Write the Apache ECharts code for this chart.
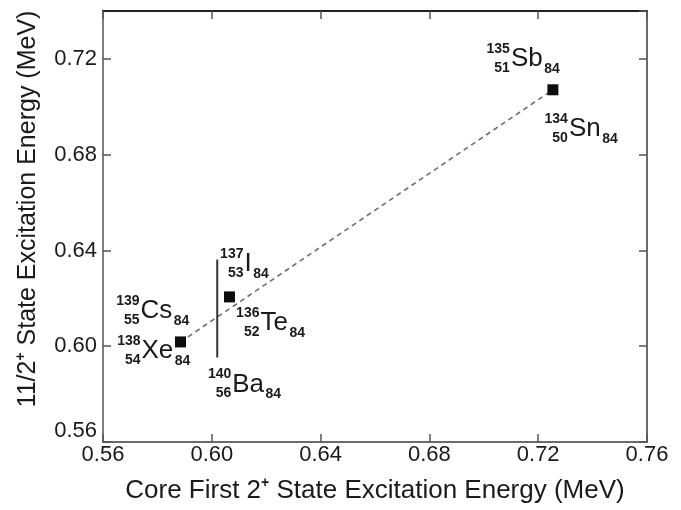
<!DOCTYPE html>
<html><head><meta charset="utf-8">
<script src="https://cdn.jsdelivr.net/npm/echarts@6/dist/echarts.min.js"></script>
<style>html,body{margin:0;padding:0;background:#fff}#c{width:681px;height:510px}</style>
</head><body><div id="c"></div>
<script>
// ---- data ----
const pointNames = ['138Xe / 139Cs', '136Te / 137I', '134Sn / 135Sb'];
const coreEnergy = [0.5885, 0.6065, 0.7254];
const stateEnergy = [0.6018, 0.6206, 0.7071];
const fitLineX = [0.5885, 0.7254];
const fitLineY = [0.6018, 0.7071];
const baCoreEnergy = [0.602, 0.602];
const baStateRange = [0.5953, 0.6362];
const xTicks = [0.56, 0.60, 0.64, 0.68, 0.72, 0.76];
const yTicks = [0.56, 0.60, 0.64, 0.68, 0.72];
const labelMass = ['139', '138', '137', '136', '140', '135', '134'];
const labelZ = ['55', '54', '53', '52', '56', '51', '50'];
const labelSym = ['Cs', 'Xe', 'I', 'Te', 'Ba', 'Sb', 'Sn'];
const labelN = ['84', '84', '84', '84', '84', '84', '84'];
const labelAnchor = ['p0', 'p0', 'p1', 'p1', 'ba', 'p2', 'p2'];

// ---- layout / style ----
const FONT = '"Liberation Sans", Arial, Helvetica, sans-serif';
const SYM_FS = 26, SCR_FS = 14;
const labelOffset = [[-40, -22], [-39, 18], [15, -24], [31, 35], [15, 36], [-42, -22], [16, 48]];
const TXT = '#1a1a1a';

const chart = echarts.init(document.getElementById('c'), null, {renderer: 'canvas'});
const xMin = xTicks[0], xMax = xTicks[xTicks.length - 1];
const yMin = yTicks[0], yMax = 0.74, step = 0.04;

const axisLineStyle = {color: '#3a3a3a', width: 1.5};
const tickStyle = {show: true, inside: true, length: 8, lineStyle: {color: '#555', width: 1.5}};

const option = {
  animation: false,
  backgroundColor: '#fff',
  grid: {left: 103, right: 34, top: 11, bottom: 68, containLabel: false},
  xAxis: [{
    type: 'value', min: xMin, max: xMax, interval: step, position: 'bottom',
    axisLine: {show: true, lineStyle: axisLineStyle}, axisTick: tickStyle, splitLine: {show: false},
    axisLabel: {color: TXT, fontSize: 22, fontFamily: FONT, margin: 2, formatter: v => v.toFixed(2)},
    name: 'Core First 2{s|+} State Excitation Energy (MeV)', nameLocation: 'middle', nameGap: 34,
    nameTextStyle: {color: TXT, fontSize: 26, fontFamily: FONT, lineHeight: 29,
      rich: {s: {fontSize: 14, fontWeight: 'bold', fontFamily: FONT, color: TXT, verticalAlign: 'top', lineHeight: 14}}}
  }, {
    type: 'value', min: xMin, max: xMax, interval: step, position: 'top',
    axisLine: {show: true, lineStyle: {color: '#222', width: 2}}, axisTick: tickStyle, splitLine: {show: false},
    axisLabel: {show: false}
  }],
  yAxis: [{
    type: 'value', min: yMin, max: yMax, interval: step, position: 'left',
    axisLine: {show: true, lineStyle: {color: '#555', width: 1.5}}, axisTick: tickStyle, splitLine: {show: false},
    axisLabel: {color: TXT, fontSize: 22, fontFamily: FONT, margin: 6, showMaxLabel: false,
      verticalAlignMinLabel: 'bottom', formatter: v => v.toFixed(2)},
    name: '11/2{s|+} State Excitation Energy (MeV)', nameLocation: 'middle', nameGap: 61, nameRotate: 90,
    nameTextStyle: {color: TXT, fontSize: 25, fontFamily: FONT, lineHeight: 28, padding: [0, 0, 0, 35],
      rich: {s: {fontSize: 14, fontWeight: 'bold', fontFamily: FONT, color: TXT, verticalAlign: 'top', lineHeight: 14}}}
  }, {
    type: 'value', min: yMin, max: yMax, interval: step, position: 'right',
    axisLine: {show: true, lineStyle: axisLineStyle}, axisTick: tickStyle, splitLine: {show: false},
    axisLabel: {show: false}
  }],
  series: [
    {
      type: 'line', name: 'fit', xAxisIndex: 0, yAxisIndex: 0, z: 2,
      data: fitLineX.map((x, i) => [x, fitLineY[i]]),
      showSymbol: false, symbol: 'none',
      lineStyle: {color: '#6e6e6e', width: 1.6, type: [5, 4]}
    },
    {
      type: 'line', name: 'Ba', xAxisIndex: 0, yAxisIndex: 0, z: 2,
      data: baCoreEnergy.map((x, i) => [x, baStateRange[i]]),
      showSymbol: false, symbol: 'none',
      lineStyle: {color: '#333', width: 2}
    },
    {
      type: 'scatter', name: 'nuclei', xAxisIndex: 0, yAxisIndex: 0, z: 3,
      data: coreEnergy.map((x, i) => ({name: pointNames[i], value: [x, stateEnergy[i]]})),
      symbol: 'rect', symbolSize: 11,
      itemStyle: {color: '#0d0d0d', opacity: 1}
    }
  ]
};
chart.setOption(option);

function anchorPx(a) {
  if (a === 'ba') return chart.convertToPixel({gridIndex: 0}, [baCoreEnergy[0], baStateRange[0]]);
  const i = +a.slice(1);
  return chart.convertToPixel({gridIndex: 0}, [coreEnergy[i], stateEnergy[i]]);
}

const ctx = document.createElement('canvas').getContext('2d');
const symFont = 'normal ' + SYM_FS + 'px ' + FONT;
const scrFont = 'bold ' + SCR_FS + 'px ' + FONT;
const graphics = [];
labelSym.forEach((sym, i) => {
  const a = anchorPx(labelAnchor[i]);
  const x0 = a[0] + labelOffset[i][0];
  const B = a[1] + labelOffset[i][1];
  ctx.font = symFont;
  const w = ctx.measureText(sym).width;
  const mid = (fs) => 0.3465 * fs;
  graphics.push({type: 'text', x: x0, y: B - mid(SYM_FS), z: 10,
    style: {text: sym, font: symFont, fill: TXT, align: 'left', verticalAlign: 'middle'}});
  graphics.push({type: 'text', x: x0 - 1, y: B - 14 - mid(SCR_FS), z: 10,
    style: {text: labelMass[i], font: scrFont, fill: TXT, align: 'right', verticalAlign: 'middle'}});
  graphics.push({type: 'text', x: x0 - 1, y: B + 5 - mid(SCR_FS), z: 10,
    style: {text: labelZ[i], font: scrFont, fill: TXT, align: 'right', verticalAlign: 'middle'}});
  graphics.push({type: 'text', x: x0 + w + 1.5, y: B + 6 - mid(SCR_FS), z: 10,
    style: {text: labelN[i], font: scrFont, fill: TXT, align: 'left', verticalAlign: 'middle'}});
});
chart.setOption({graphic: graphics});
</script>
</body></html>
